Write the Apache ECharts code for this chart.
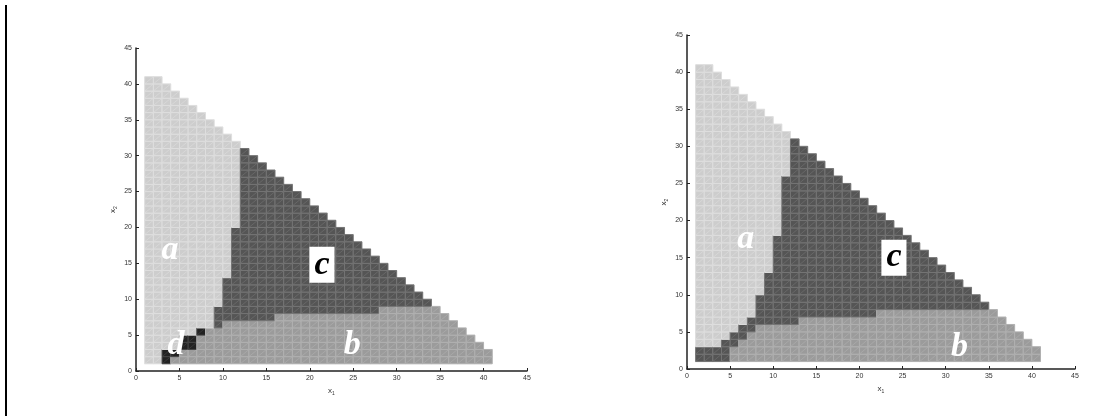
<!DOCTYPE html>
<html>
<head>
<meta charset="utf-8">
<script src="https://cdn.jsdelivr.net/npm/echarts@6/dist/echarts.min.js"></script>
<style>
  html, body { margin: 0; padding: 0; background: #fff; }
  #main { width: 1120px; height: 416px; }
</style>
</head>
<body>
<div id="main"></div>
<script>
// top edge of each column (x1 = 1..40), read from the staircase
const colTop = [41, 41, 40, 39, 38, 37, 36, 35, 34, 33, 32, 31, 30, 29, 28, 27, 26, 25, 24, 23,
  22, 21, 20, 19, 18, 17, 16, 15, 14, 13, 12, 11, 10, 9, 8, 7, 6, 5, 4, 3];

// left panel: number of cells per column, stacked from the bottom: b, then d, then c, rest is a
const leftB = [0, 0, 0, 1, 2, 2, 4, 5, 5, 6, 6, 6, 6, 6, 6, 7, 7, 7, 7, 7,
  7, 7, 7, 7, 7, 7, 7, 8, 8, 8, 8, 8, 8, 8, 7, 6, 5, 4, 3, 2];
const leftD = [0, 0, 2, 1, 2, 2, 1, 0, 0, 0, 0, 0, 0, 0, 0, 0, 0, 0, 0, 0,
  0, 0, 0, 0, 0, 0, 0, 0, 0, 0, 0, 0, 0, 0, 0, 0, 0, 0, 0, 0];
const leftC = [0, 0, 0, 0, 0, 0, 0, 0, 3, 6, 13, 24, 23, 22, 21, 19, 18, 17, 16, 15,
  14, 13, 12, 11, 10, 9, 8, 6, 5, 4, 3, 2, 1, 0, 0, 0, 0, 0, 0, 0];

// right panel, same layout
const rightB = [0, 0, 0, 0, 2, 3, 4, 5, 5, 5, 5, 5, 6, 6, 6, 6, 6, 6, 6, 6,
  6, 7, 7, 7, 7, 7, 7, 7, 7, 7, 7, 7, 7, 7, 7, 6, 5, 4, 3, 2];
const rightD = [0, 0, 0, 0, 0, 0, 0, 0, 0, 0, 0, 0, 0, 0, 0, 0, 0, 0, 0, 0,
  0, 0, 0, 0, 0, 0, 0, 0, 0, 0, 0, 0, 0, 0, 0, 0, 0, 0, 0, 0];
const rightC = [2, 2, 2, 3, 2, 2, 2, 4, 7, 12, 20, 25, 23, 22, 21, 20, 19, 18, 17, 16,
  15, 13, 12, 11, 10, 9, 8, 7, 6, 5, 4, 3, 2, 1, 0, 0, 0, 0, 0, 0];

// region letters and where they sit (x1, x2)
const leftLabels = [
  { name: "a", pos: [3.9, 16.8] },
  { name: "c", pos: [21.4, 14.8] },
  { name: "d", pos: [4.6, 3.6] },
  { name: "b", pos: [24.9, 3.6] }
];
const rightLabels = [
  { name: "a", pos: [6.8, 17.5] },
  { name: "c", pos: [24.0, 15.0] },
  { name: "b", pos: [31.6, 2.9] }
];

const axisTicks = [0, 45, 5]; // min, max, interval

const fills = { a: "#cdcdcd", b: "#9b9b9b", c: "#555555", d: "#222222" };
const strokes = { a: "#dedede", b: "#b0b0b0", c: "#747474", d: "#444444" };
const regionIdx = ["a", "b", "c", "d"];

function buildCells(bArr, dArr, cArr) {
  const out = [];
  for (let i = 0; i < colTop.length; i++) {
    const x = i + 1;
    const rows = colTop[i] - 1;
    for (let j = 1; j <= rows; j++) {
      let r;
      if (j <= bArr[i]) r = 1;
      else if (j <= bArr[i] + dArr[i]) r = 3;
      else if (j <= bArr[i] + dArr[i] + cArr[i]) r = 2;
      else r = 0;
      out.push([x, j, r]);
    }
  }
  return out;
}

function renderCell(params, api) {
  const x = api.value(0), y = api.value(1);
  const reg = regionIdx[api.value(2)];
  const p0 = api.coord([x, y]);
  const p1 = api.coord([x + 1, y + 1]);
  return {
    type: "group",
    children: [
      {
        type: "rect",
        shape: { x: p0[0], y: p1[1], width: p1[0] - p0[0], height: p0[1] - p1[1] },
        style: { fill: fills[reg], stroke: strokes[reg], lineWidth: 1 }
      },
      {
        type: "line",
        shape: { x1: p0[0], y1: p0[1], x2: p1[0], y2: p1[1] },
        style: { stroke: strokes[reg], lineWidth: 0.6 }
      }
    ]
  };
}

function labelSeries(list, idx) {
  return {
    type: "scatter",
    xAxisIndex: idx, yAxisIndex: idx,
    symbolSize: 0,
    silent: true,
    z: 5,
    itemStyle: { opacity: 1 },
    data: list.map(l => ({
      value: l.pos,
      label: l.name === "c"
        ? { color: "#000", backgroundColor: "#fff", padding: [1, 5, 1, 5], lineHeight: 34 }
        : { color: "#fff" }
    })),
    label: {
      show: true,
      position: "inside",
      opacity: 1,
      formatter: p => list[p.dataIndex].name,
      fontFamily: "Liberation Serif",
      fontStyle: "italic",
      fontWeight: "bold",
      fontSize: 34
    }
  };
}

function xAxis(idx) {
  return {
    gridIndex: idx, type: "value",
    min: axisTicks[0], max: axisTicks[1], interval: axisTicks[2],
    name: "x{s|1}", nameLocation: "middle", nameGap: 14,
    nameTextStyle: { color: "#333", fontSize: 8, rich: { s: { fontSize: 5, verticalAlign: "bottom", padding: [6, 0, 0, 0] } } },
    axisLine: { onZero: false, lineStyle: { color: "#222", width: 1.5 } },
    axisTick: { inside: true, length: 3, lineStyle: { color: "#222" } },
    axisLabel: { color: "#333", fontSize: 7, margin: 4, fontFamily: "Liberation Sans" },
    splitLine: { show: false }
  };
}

function yAxis(idx) {
  return {
    gridIndex: idx, type: "value",
    min: axisTicks[0], max: axisTicks[1], interval: axisTicks[2],
    name: "x{s|2}", nameLocation: "middle", nameGap: 18, nameRotate: 90,
    nameTextStyle: { color: "#333", fontSize: 8, rich: { s: { fontSize: 5, verticalAlign: "bottom", padding: [6, 0, 0, 0] } } },
    axisLine: { onZero: false, lineStyle: { color: "#222", width: 1.5 } },
    axisTick: { inside: true, length: 3, lineStyle: { color: "#222" } },
    axisLabel: { color: "#333", fontSize: 7, margin: 4, fontFamily: "Liberation Sans" },
    splitLine: { show: false }
  };
}

const chart = echarts.init(document.getElementById("main"));
const option = {
  animation: false,
  backgroundColor: "#fff",
  grid: [
    { left: 136, top: 48, width: 391, height: 323 },
    { left: 687, top: 35, width: 388, height: 334 }
  ],
  xAxis: [xAxis(0), xAxis(1)],
  yAxis: [yAxis(0), yAxis(1)],
  graphic: [
    { type: "line", shape: { x1: 6, y1: 5, x2: 6, y2: 416 }, style: { stroke: "#000", lineWidth: 2 } }
  ],
  series: [
    { type: "custom", xAxisIndex: 0, yAxisIndex: 0, renderItem: renderCell, data: buildCells(leftB, leftD, leftC), silent: true },
    { type: "custom", xAxisIndex: 1, yAxisIndex: 1, renderItem: renderCell, data: buildCells(rightB, rightD, rightC), silent: true },
    labelSeries(leftLabels, 0),
    labelSeries(rightLabels, 1)
  ]
};
chart.setOption(option);
window.addEventListener("resize", chart.resize);
</script>
</body>
</html>
